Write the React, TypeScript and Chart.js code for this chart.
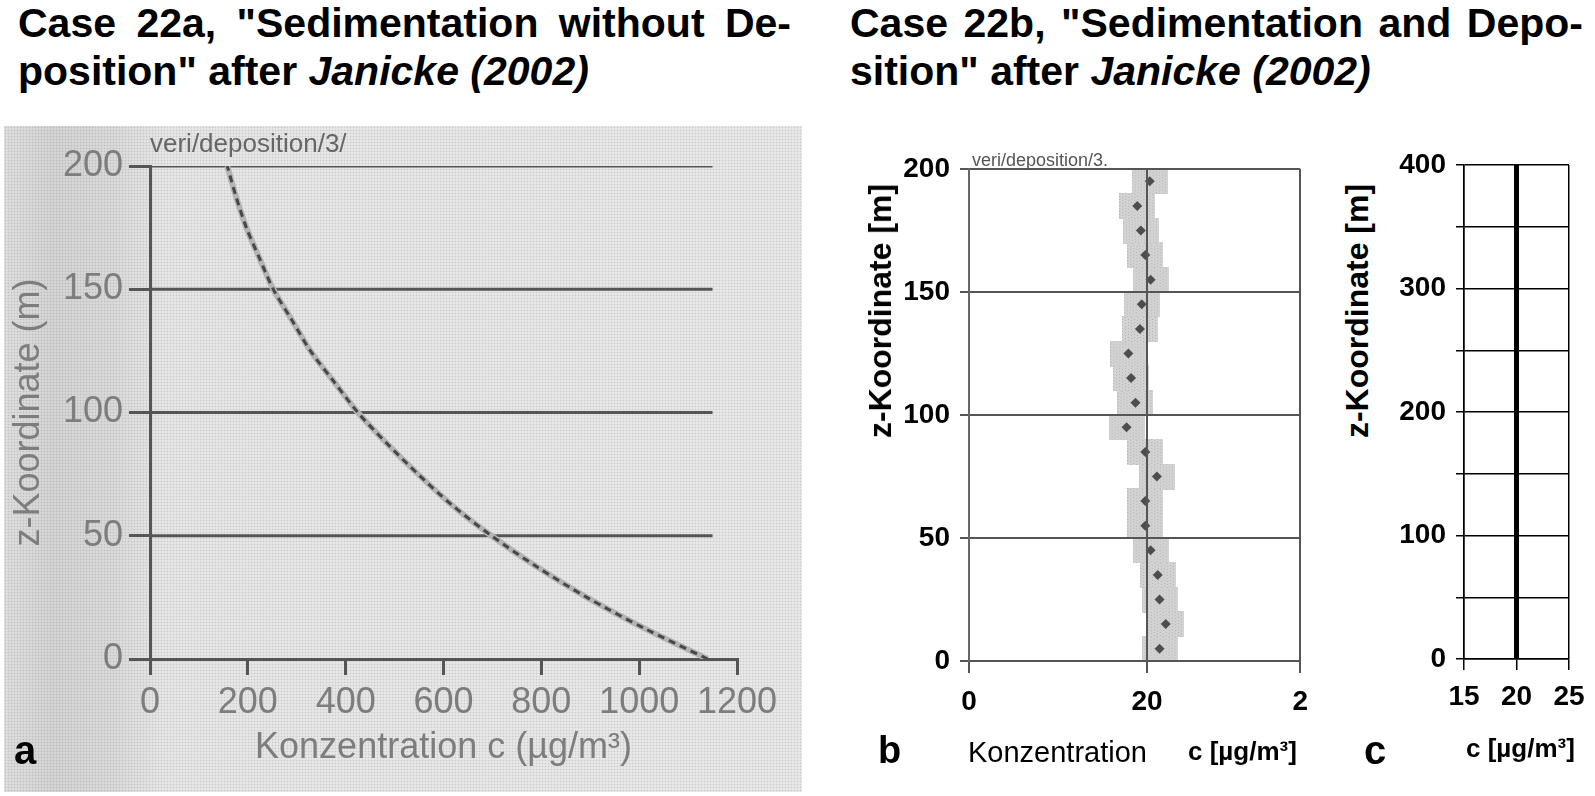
import React, { useEffect, useRef } from 'react';
import { Chart, registerables } from 'chart.js';

Chart.register(...registerables);

// ---------- Panel a: Sedimentation without deposition ----------
const aZ = [0, 12.5, 25, 37.5, 50, 62.5, 75, 87.5, 100, 112.5, 125, 137.5, 150, 162.5, 175, 187.5, 200];
const aConc = [1140, 1010, 893, 790, 698, 617, 548, 484, 425, 376, 328, 290, 252, 224, 197, 176, 158];
const aXTicks = [0, 200, 400, 600, 800, 1000, 1200];
const aRefZ = [50, 100, 150, 200];
const aRefEnd = 1150;

// ---------- Panel b: Sedimentation and deposition ----------
const bZ = [5, 15, 25, 35, 45, 55, 65, 75, 85, 95, 105, 115, 125, 135, 145, 155, 165, 175, 185, 195];
const bConc = [21.4, 22.1, 21.4, 21.2, 20.4, 19.8, 19.8, 21.1, 19.8, 17.7, 18.7, 18.2, 17.9, 19.2, 19.4, 20.4, 19.8, 19.3, 18.9, 20.3];
const bXTicks = [0, 20, 37.2];
const bXLabels = ['0', '20', '2'];

// ---------- Panel c: analytical solution ----------
const cZ = [0, 400];
const cConc = [20, 20];
const cXTicks = [15, 20, 25];

const SANS = "'Liberation Sans', Arial, Helvetica, sans-serif";

function baseOpts(padding: any) {
  return {
    animation: false,
    responsive: false,
    maintainAspectRatio: false,
    events: [],
    layout: { padding },
    plugins: { legend: { display: false }, tooltip: { enabled: false } },
  } as any;
}

function useChart(ref: React.RefObject<HTMLCanvasElement>, make: (c: HTMLCanvasElement) => Chart) {
  useEffect(() => {
    if (!ref.current) return;
    const ch = make(ref.current);
    return () => ch.destroy();
  }, []);
}

function makeA(canvas: HTMLCanvasElement) {
  const curve = aZ.map((z, i) => ({ x: aConc[i], y: z }));
  const grey = '#7d7d7d';
  return new Chart(canvas, {
    type: 'scatter',
    data: {
      datasets: [
        { data: curve, showLine: true, borderColor: '#474747', borderWidth: 3, borderDash: [7, 5], pointRadius: 0, tension: 0.3, order: 0 } as any,
        { data: curve, showLine: true, borderColor: '#b4b4b4', borderWidth: 6, pointRadius: 0, tension: 0.3, order: 1 } as any,
        ...aRefZ.map((z) => ({
          data: [{ x: 0, y: z }, { x: aRefEnd, y: z }],
          showLine: true, borderColor: '#555', borderWidth: 3, pointRadius: 0, order: 2,
        })),
      ],
    },
    options: {
      ...baseOpts({ left: 0, top: 46, right: 63, bottom: 0 }),
      scales: {
        x: {
          type: 'linear', min: 0, max: 1200,
          afterBuildTicks: (s: any) => { s.ticks = aXTicks.map((v) => ({ value: v })); },
          afterFit: (s: any) => { s.height = 137; },
          grid: { drawOnChartArea: false, drawTicks: true, tickLength: 16, color: '#555', lineWidth: 3 },
          border: { display: true, color: '#555', width: 3 },
          ticks: { callback: (v: any) => String(v), color: grey, font: { family: SANS, size: 36 }, padding: 6, autoSkip: false, maxRotation: 0 },
          title: { display: true, text: 'Konzentration c (µg/m³)', color: grey, font: { family: SANS, size: 36 }, padding: { top: 0, bottom: 26 } },
        },
        y: {
          type: 'linear', min: 0, max: 200,
          ticks: { stepSize: 50, callback: (v: any) => String(v), color: grey, font: { family: SANS, size: 36 }, padding: 6 },
          afterFit: (s: any) => { s.width = 150; },
          grid: { drawOnChartArea: false, drawTicks: true, tickLength: 21, color: '#555', lineWidth: 3 },
          border: { display: true, color: '#555', width: 3 },
          title: { display: true, text: 'z-Koordinate (m)', color: grey, font: { family: SANS, size: 36 }, padding: { top: 7, bottom: 0 } },
        },
      },
    } as any,
  });
}

function makeB(canvas: HTMLCanvasElement) {
  const halo = document.createElement('canvas');
  halo.width = 36;
  halo.height = 26;
  const hc = halo.getContext('2d')!;
  hc.fillStyle = '#d3d3d3';
  hc.fillRect(0, 0, 36, 26);
  hc.fillStyle = '#b3b3b3';
  for (let i = 0; i < 36; i += 3) for (let j = i % 2; j < 26; j += 3) hc.fillRect(i, j, 1, 1);

  const pts = bZ.map((z, i) => ({ x: bConc[i], y: z }));
  const tickFont = { family: SANS, size: 28, weight: 'bold' };
  return new Chart(canvas, {
    type: 'scatter',
    data: {
      datasets: [
        { data: pts, pointStyle: 'rectRot', pointRadius: 5, backgroundColor: '#4d4d4d', borderWidth: 0, order: 0 } as any,
        { data: pts, pointStyle: halo, pointRadius: 10, borderWidth: 0, order: 1 } as any,
      ],
    },
    options: {
      ...baseOpts({ left: 0, top: 49, right: 18, bottom: 0 }),
      scales: {
        x: {
          type: 'linear', min: 0, max: bXTicks[bXTicks.length - 1],
          afterBuildTicks: (s: any) => { s.ticks = bXTicks.map((v) => ({ value: v })); },
          afterFit: (s: any) => { s.height = 135; },
          grid: { color: '#555', lineWidth: 2, tickLength: 12, z: 1 },
          border: { color: '#555', width: 2, z: 2 },
          ticks: { callback: (_v: any, i: number) => bXLabels[i], color: '#000', font: tickFont, padding: 12, autoSkip: false, maxRotation: 0 },
        },
        y: {
          type: 'linear', min: 0, max: 200,
          ticks: { stepSize: 50, color: '#000', font: tickFont, padding: 10 },
          afterFit: (s: any) => { s.width = 129; },
          grid: { color: '#555', lineWidth: 2, tickLength: 9, z: 1 },
          border: { color: '#666', width: 2, z: 2 },
        },
      },
    } as any,
  });
}

function makeC(canvas: HTMLCanvasElement) {
  const tickFont = { family: SANS, size: 28, weight: 'bold' };
  return new Chart(canvas, {
    type: 'scatter',
    data: {
      datasets: [
        { data: cZ.map((z, i) => ({ x: cConc[i], y: z })), showLine: true, borderColor: '#000', borderWidth: 5, pointRadius: 0 } as any,
      ],
    },
    options: {
      ...baseOpts({ left: 0, top: 45, right: 26, bottom: 0 }),
      scales: {
        x: {
          type: 'linear', min: 15, max: 25,
          afterBuildTicks: (s: any) => { s.ticks = cXTicks.map((v) => ({ value: v })); },
          afterFit: (s: any) => { s.height = 137; },
          grid: { color: '#000', lineWidth: 1.5, tickLength: 11 },
          border: { color: '#000', width: 1.5 },
          ticks: { color: '#000', font: tickFont, padding: 10, autoSkip: false, maxRotation: 0 },
        },
        y: {
          type: 'linear', min: 0, max: 400,
          ticks: { stepSize: 50, callback: (v: any) => (v % 100 === 0 ? String(v) : ''), color: '#000', font: tickFont, padding: 10, autoSkip: false },
          afterFit: (s: any) => { s.width = 84; },
          grid: { color: '#000', lineWidth: 1.5, tickLength: 8 },
          border: { color: '#000', width: 1.5 },
        },
      },
    } as any,
  });
}

function Txt(props: { x: number; base: number; size: number; bold?: boolean; color?: string; children: React.ReactNode; style?: any }) {
  const { x, base, size, bold, color, children, style } = props;
  return (
    <div
      style={{
        position: 'absolute', left: x, top: base - 0.8465 * size, fontFamily: SANS, fontSize: size,
        lineHeight: size + 'px', fontWeight: bold ? 'bold' : 'normal', color: color || '#000', whiteSpace: 'nowrap', ...style,
      }}
    >
      {children}
    </div>
  );
}

function VTxt(props: { cx: number; cy: number; size: number; children: React.ReactNode }) {
  return (
    <div
      style={{
        position: 'absolute', left: props.cx, top: props.cy, transform: 'translate(-50%, -50%) rotate(-90deg)',
        fontFamily: SANS, fontSize: props.size, lineHeight: props.size + 'px', fontWeight: 'bold', color: '#000', whiteSpace: 'nowrap',
      }}
    >
      {props.children}
    </div>
  );
}

export default function App() {
  const ra = useRef<HTMLCanvasElement>(null);
  const rb = useRef<HTMLCanvasElement>(null);
  const rc = useRef<HTMLCanvasElement>(null);
  useChart(ra, makeA);
  useChart(rb, makeB);
  useChart(rc, makeC);

  const headSize = 41;
  return (
    <div style={{ position: 'absolute', left: 0, top: 0, width: 1595, height: 796, background: '#fff', overflow: 'hidden' }}>
      {/* scanned paper background of panel a */}
      <div
        style={{
          position: 'absolute', left: 4, top: 126, width: 798, height: 666,
          backgroundColor: '#e4e4e4',
          backgroundImage:
            'radial-gradient(rgba(0,0,0,0.13) 0.7px, transparent 1.1px), linear-gradient(to right, #dedede 0px, #d4d4d4 50px, #dadada 110px, #e6e6e6 160px, #e8e8e8 100%)',
          backgroundSize: '3px 3px, 100% 100%',
        }}
      />

      {/* headings */}
      <Txt x={18} base={38} size={headSize} bold style={{ width: 773, textAlign: 'justify', textAlignLast: 'justify', whiteSpace: 'normal' }}>
        Case 22a, "Sedimentation without De-
      </Txt>
      <Txt x={18} base={86} size={headSize} bold>
        position" after <i>Janicke (2002)</i>
      </Txt>
      <Txt x={850} base={38} size={headSize} bold style={{ width: 733, textAlign: 'justify', textAlignLast: 'justify', whiteSpace: 'normal' }}>
        Case 22b, "Sedimentation and Depo-
      </Txt>
      <Txt x={850} base={86} size={headSize} bold>
        sition" after <i>Janicke (2002)</i>
      </Txt>

      <canvas ref={ra} width={800} height={676} style={{ position: 'absolute', left: 0, top: 120, width: 800, height: 676 }} />
      <canvas ref={rb} width={480} height={676} style={{ position: 'absolute', left: 840, top: 120, width: 480, height: 676 }} />
      <canvas ref={rc} width={215} height={676} style={{ position: 'absolute', left: 1380, top: 120, width: 215, height: 676 }} />

      {/* small captions */}
      <Txt x={150} base={152} size={26} color="#666">veri/deposition/3/</Txt>
      <Txt x={972} base={166} size={18} color="#555">veri/deposition/3.</Txt>

      {/* panel letters */}
      <Txt x={14} base={764} size={40} bold>a</Txt>
      <Txt x={878} base={763} size={38} bold>b</Txt>
      <Txt x={1364} base={764} size={40} bold>c</Txt>

      {/* axis titles of b and c */}
      <Txt x={968} base={763} size={29}>Konzentration</Txt>
      <Txt x={1188} base={760} size={26} bold>c [µg/m³]</Txt>
      <Txt x={1466} base={757} size={26} bold>c [µg/m³]</Txt>
      <VTxt cx={880} cy={311} size={32}>z-Koordinate [m]</VTxt>
      <VTxt cx={1357} cy={311} size={32}>z-Koordinate [m]</VTxt>
    </div>
  );
}
